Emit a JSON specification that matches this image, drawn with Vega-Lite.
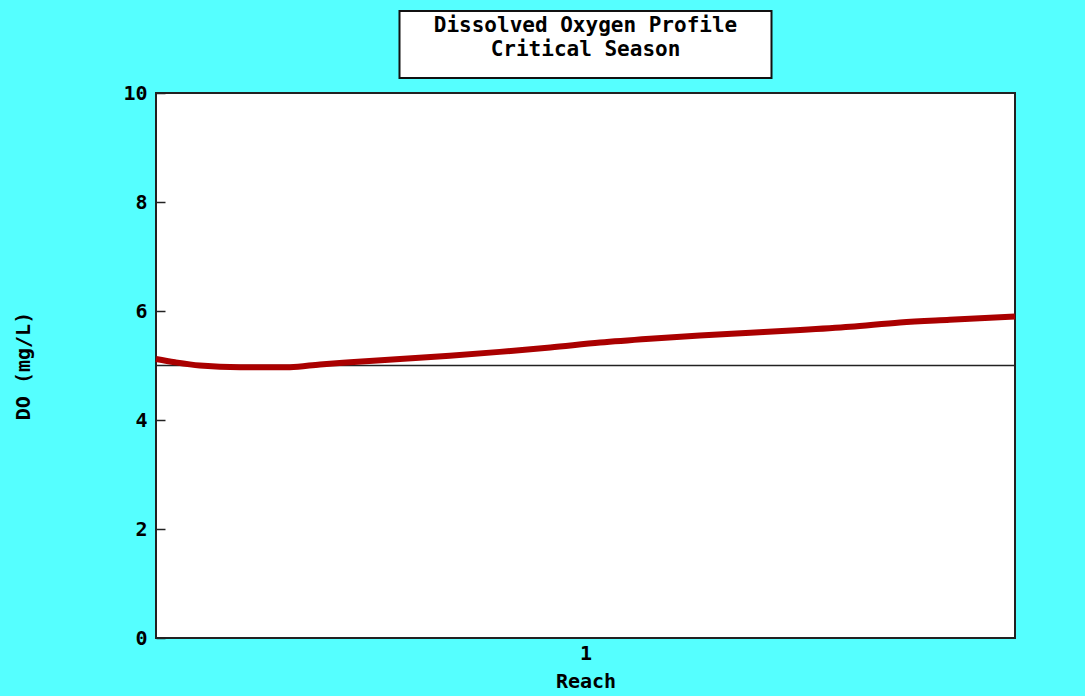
{
  "$schema": "https://vega.github.io/schema/vega-lite/v6.json",
  "background": "#55FFFF",
  "padding": {"left": 12, "top": 10, "right": 60, "bottom": 6},
  "spacing": 15,
  "bounds": "flush",
  "center": true,
  "config": {
    "view": {"stroke": "#222222", "strokeWidth": 2, "fill": "white"},
    "font": "DejaVu Sans Mono",
    "axis": {
      "labelFont": "DejaVu Sans Mono",
      "labelFontWeight": "bold",
      "labelFontSize": 20,
      "labelColor": "black",
      "titleFont": "DejaVu Sans Mono",
      "titleFontWeight": "bold",
      "titleFontSize": 20,
      "titleColor": "black",
      "grid": false,
      "domain": false
    }
  },
  "datasets": {
    "titleText": [{"t": "Dissolved Oxygen Profile\nCritical Season"}],
    "profile": [
      {"reach": 0.500, "do": 5.12},
      {"reach": 0.522, "do": 5.06},
      {"reach": 0.551, "do": 5.00},
      {"reach": 0.598, "do": 4.97},
      {"reach": 0.656, "do": 4.97},
      {"reach": 0.691, "do": 5.02},
      {"reach": 0.726, "do": 5.06},
      {"reach": 0.784, "do": 5.12},
      {"reach": 0.842, "do": 5.18},
      {"reach": 0.900, "do": 5.25},
      {"reach": 0.959, "do": 5.33},
      {"reach": 1.017, "do": 5.42},
      {"reach": 1.075, "do": 5.49},
      {"reach": 1.133, "do": 5.55},
      {"reach": 1.192, "do": 5.60},
      {"reach": 1.250, "do": 5.65},
      {"reach": 1.308, "do": 5.71},
      {"reach": 1.366, "do": 5.79},
      {"reach": 1.424, "do": 5.84},
      {"reach": 1.500, "do": 5.90}
    ],
    "standard": [{"do": 5}]
  },
  "vconcat": [
    {
      "width": 372,
      "height": 67,
      "view": {"stroke": "#111111", "strokeWidth": 2, "fill": "white"},
      "data": {"name": "titleText"},
      "mark": {
        "type": "text",
        "lineBreak": "\n",
        "font": "DejaVu Sans Mono",
        "fontWeight": "bold",
        "fontSize": 21,
        "lineHeight": 24,
        "baseline": "middle",
        "align": "center",
        "color": "black",
        "dy": -19
      },
      "encoding": {"text": {"field": "t"}}
    },
    {
      "width": 859,
      "height": 545,
      "layer": [
        {
          "data": {"name": "standard"},
          "mark": {"type": "rule", "color": "#222222", "strokeWidth": 1.5},
          "encoding": {
            "y": {"field": "do", "type": "quantitative", "scale": {"domain": [0, 10]}}
          }
        },
        {
          "data": {"name": "profile"},
          "mark": {"type": "line", "color": "#AA0000", "strokeWidth": 6, "interpolate": "monotone"},
          "encoding": {
            "x": {
              "field": "reach", "type": "quantitative",
              "scale": {"domain": [0.5, 1.5], "nice": false, "zero": false},
              "axis": {"values": [1], "format": "d", "ticks": false, "labelPadding": 5, "title": "Reach", "titlePadding": 8}
            },
            "y": {
              "field": "do", "type": "quantitative",
              "scale": {"domain": [0, 10], "nice": false},
              "axis": {"values": [0, 2, 4, 6, 8, 10], "tickSize": -9, "tickColor": "#222222", "tickWidth": 1.5, "labelPadding": 18, "title": "DO (mg/L)", "titlePadding": 89}
            }
          }
        }
      ]
    }
  ]
}
